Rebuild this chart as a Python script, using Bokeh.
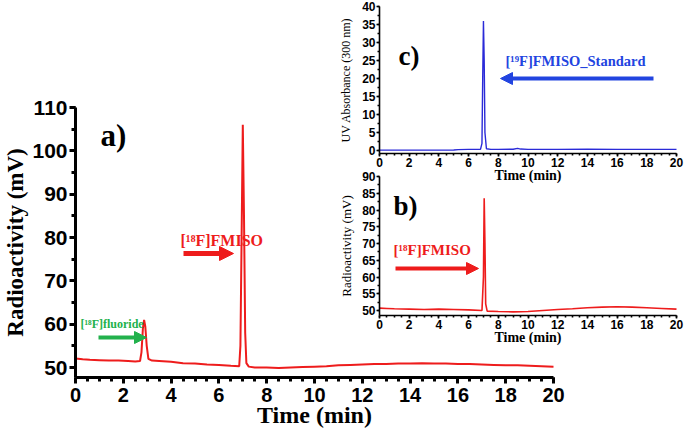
from bokeh.plotting import figure
from bokeh.models import (Range1d, SingleIntervalTicker, Label, Arrow, NormalHead, LinearAxis)
from bokeh.embed import file_html
from bokeh.resources import INLINE

# ---- data ----
main_time = [0.0, 0.3, 0.6, 1.0, 1.4, 1.8, 2.2, 2.5, 2.7, 2.76, 2.82, 2.87, 2.92, 2.98, 3.05,
             3.2, 3.5, 4.0, 4.5, 5.0, 5.5, 6.0, 6.5, 6.85, 6.9, 6.95, 7.0, 7.05, 7.1, 7.15,
             7.25, 7.5, 8.0, 8.5, 9.0, 9.5, 10.0, 10.5, 11.0, 11.5, 12.0, 12.5, 13.0, 13.5,
             14.0, 14.5, 15.0, 15.5, 16.0, 16.5, 17.0, 17.5, 18.0, 18.5, 19.0, 19.5, 20.0]
main_mv = [52.1, 51.9, 51.8, 51.7, 51.6, 51.6, 51.5, 51.4, 51.5, 53.5, 59.0, 61.0, 59.5, 55.0, 52.0,
           51.6, 51.5, 51.3, 51.0, 50.9, 50.7, 50.6, 50.4, 50.3, 55.0, 80.0, 106.0, 85.0, 58.0, 51.0,
           50.2, 50.0, 50.0, 49.9, 50.0, 50.1, 50.2, 50.3, 50.5, 50.6, 50.7, 50.8, 50.8, 50.9,
           50.9, 51.0, 50.9, 50.9, 50.8, 50.8, 50.7, 50.6, 50.5, 50.5, 50.4, 50.3, 50.2]

std_time = [0, 1, 2, 3, 4, 5, 5.3, 6, 6.8, 6.9, 6.95, 7.0, 7.05, 7.1, 7.2, 7.5, 8, 9, 9.3, 9.5,
            10, 12, 14, 16, 18, 20]
std_uv = [0.1, 0.1, 0.1, 0.1, 0.1, 0.15, 0.25, 0.3, 0.3, 2.0, 20.0, 36.0, 25.0, 5.0, 0.5, 0.3, 0.3,
          0.35, 0.6, 0.4, 0.3, 0.3, 0.35, 0.3, 0.3, 0.3]

ins_time = [0, 0.5, 1, 2, 3, 4, 5, 6, 6.9, 7.0, 7.05, 7.1, 7.15, 7.25, 8, 9, 10, 11, 12, 13, 14,
            15, 16, 17, 18, 19, 20]
ins_mv = [50.7, 50.6, 50.5, 50.4, 50.3, 50.4, 50.3, 50.2, 50.0, 60.0, 83.5, 70.0, 52.0, 49.8, 49.7,
          49.6, 49.7, 50.0, 50.3, 50.5, 50.8, 51.0, 51.1, 51.0, 50.8, 50.6, 50.4]

RED = "#ee1c1c"
GREEN = "#22b14c"
BLUE_LINE = "#2a2ad8"
BLUE_TXT = "#2244e0"
SERIF = "Liberation Serif"
SANS = "Liberation Sans"

# ---- layout (page pixels; the page starts at 0,0 and the frame fills the canvas) ----
W, H = 685, 438


def rng(v0, p0, v1, p1, pa, pb):
    """Range ends at pixels pa, pb given two anchors (value v at pixel p)."""
    k = (v1 - v0) / (p1 - p0)
    return (v0 + (pa - p0) * k, v0 + (pb - p0) * k)


def at(v0, p0, v1, p1, pix):
    return v0 + (pix - p0) * (v1 - v0) / (p1 - p0)


MX = (0, 75, 20, 553)
MY = (50, 367, 110, 107)
IX = (0, 379, 20, 676)
CY = (0, 150, 40, 6)
BY = (50, 310, 90, 176)

mx = rng(*MX, 0, W)
my_lo, my_hi = rng(*MY, H, 0)
ix = rng(*IX, 0, W)
cy_lo, cy_hi = rng(*CY, H, 0)
by_lo, by_hi = rng(*BY, H, 0)
main_axis_y = at(*MY, 377)
c_axis_y = at(*CY, 153)
b_axis_y = at(*BY, 315)

p = figure(width=W, height=H, output_backend="svg", toolbar_location=None,
           x_range=Range1d(*mx), y_range=Range1d(my_lo, my_hi),
           x_axis_location=None, y_axis_location=None,
           min_border=0, min_border_left=0, min_border_right=0,
           min_border_top=0, min_border_bottom=0)
p.grid.visible = False
p.outline_line_color = None
p.extra_x_ranges = {"ix": Range1d(*ix)}
p.extra_y_ranges = {"cy": Range1d(cy_lo, cy_hi), "by": Range1d(by_lo, by_hi)}


def style_axis(ax, lab_px, title_px, w, tick_out, minor_out, lab_st, title_st, title_bold):
    ax.axis_line_width = w
    ax.major_tick_line_width = w
    ax.minor_tick_line_width = w
    ax.major_tick_out = tick_out
    ax.major_tick_in = 0
    ax.minor_tick_out = minor_out
    ax.minor_tick_in = 0
    ax.major_label_text_font = SANS
    ax.major_label_text_font_style = "bold"
    ax.major_label_text_font_size = lab_px
    ax.major_label_text_color = "black"
    ax.axis_label_text_font = SERIF
    ax.axis_label_text_font_size = title_px
    ax.axis_label_text_color = "black"
    ax.axis_label_text_font_style = "bold" if title_bold else "normal"
    ax.major_label_standoff = lab_st
    ax.axis_label_standoff = title_st


# main axes a
xa = LinearAxis(fixed_location=main_axis_y, bounds=(0, 20), axis_label="Time (min)",
                ticker=SingleIntervalTicker(interval=2, num_minor_ticks=4))
ya = LinearAxis(fixed_location=0, bounds=(main_axis_y, 110), axis_label="Radioactivity (mV)",
                ticker=SingleIntervalTicker(interval=10, num_minor_ticks=2))
style_axis(xa, "20px", "24px", 3, 6, 4, 4, -3, True)
style_axis(ya, "21px", "23px", 3, 6, 4, 2, 1, True)
p.add_layout(xa, "below")
p.add_layout(ya, "left")

# inset c axes
cxa = LinearAxis(x_range_name="ix", y_range_name="cy", fixed_location=c_axis_y, bounds=(0, 20),
                 axis_label="Time (min)",
                 ticker=SingleIntervalTicker(interval=2, num_minor_ticks=4))
cya = LinearAxis(x_range_name="ix", y_range_name="cy", fixed_location=0, bounds=(c_axis_y, 40),
                 axis_label="UV Absorbance (300 nm)",
                 ticker=SingleIntervalTicker(interval=5, num_minor_ticks=2))
style_axis(cxa, "12px", "14px", 1.6, 3, 2, 1, -2, True)
style_axis(cya, "12px", "12px", 1.6, 3, 2, 1, 6, False)
p.add_layout(cxa, "below")
p.add_layout(cya, "left")

# inset b axes
bxa = LinearAxis(x_range_name="ix", y_range_name="by", fixed_location=b_axis_y, bounds=(0, 20),
                 axis_label="Time (min)",
                 ticker=SingleIntervalTicker(interval=2, num_minor_ticks=4))
bya = LinearAxis(x_range_name="ix", y_range_name="by", fixed_location=0, bounds=(b_axis_y, 90),
                 axis_label="Radioactivity (mV)",
                 ticker=SingleIntervalTicker(interval=5, num_minor_ticks=2))
style_axis(bxa, "12px", "14px", 1.6, 3, 2, 1, -2, True)
style_axis(bya, "12px", "13px", 1.6, 3, 2, 1, 5, False)
p.add_layout(bxa, "below")
p.add_layout(bya, "left")

# traces
p.line(main_time, main_mv, line_color=RED, line_width=2)
p.line(std_time, std_uv, line_color=BLUE_LINE, line_width=1.4, x_range_name="ix", y_range_name="cy")
p.line(ins_time, ins_mv, line_color=RED, line_width=1.6, x_range_name="ix", y_range_name="by")


def label(x, y, text, size, color, xr="default", yr="default"):
    p.add_layout(Label(x=x, y=y, text=text, text_font=SERIF, text_font_size=size,
                       text_font_style="bold", text_baseline="middle", text_color=color,
                       x_range_name=xr, y_range_name=yr))


def arrow(x0, x1, y, color, width, size, xr="default", yr="default"):
    p.add_layout(Arrow(end=NormalHead(size=size, fill_color=color, line_color=color),
                       x_start=x0, y_start=y, x_end=x1, y_end=y,
                       line_color=color, line_width=width, x_range_name=xr, y_range_name=yr))


# panel a (positions given in page pixels, converted through the axis scales)
label(at(*MX, 100), at(*MY, 135), "a)", "31px", "black")
label(at(*MX, 180), at(*MY, 240), "[¹⁸F]FMISO", "16px", RED)
arrow(at(*MX, 183), at(*MX, 233), at(*MY, 253), RED, 5, 14)
label(at(*MX, 80), at(*MY, 323), "[¹⁸F]fluoride", "12px", GREEN)
arrow(at(*MX, 98), at(*MX, 146), at(*MY, 337), GREEN, 4, 12)

# panel c
label(at(*IX, 398), at(*CY, 55), "c)", "27px", "black", "ix", "cy")
label(at(*IX, 505), at(*CY, 60), "[¹⁹F]FMISO_Standard", "14.5px", BLUE_TXT, "ix", "cy")
arrow(at(*IX, 653), at(*IX, 500), at(*CY, 78), BLUE_TXT, 4, 12, "ix", "cy")

# panel b
label(at(*IX, 393), at(*BY, 205), "b)", "27px", "black", "ix", "by")
label(at(*IX, 393), at(*BY, 249), "[¹⁸F]FMISO", "15px", RED, "ix", "by")
arrow(at(*IX, 395), at(*IX, 478), at(*BY, 268), RED, 4, 12, "ix", "by")

open("out.html", "w").write(file_html(p, INLINE))
